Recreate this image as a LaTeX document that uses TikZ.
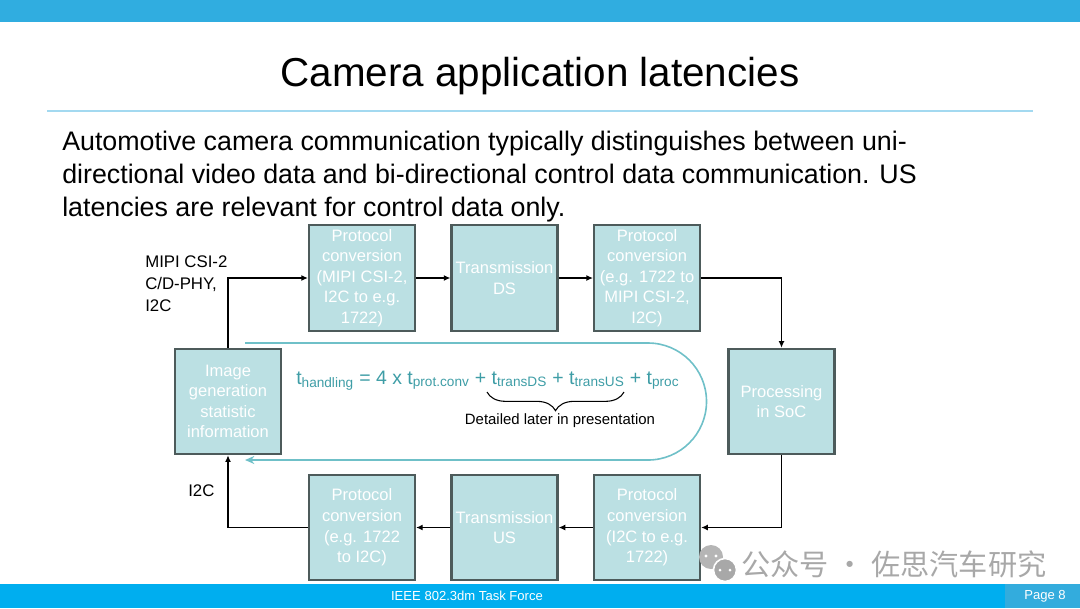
\documentclass[tikz,border=0pt]{standalone}
\usepackage{fontspec}
\setmainfont{Liberation Sans}
\newfontfamily\cjkfont{Noto Sans CJK SC}
\usetikzlibrary{arrows.meta, positioning, calc, decorations.pathreplacing}
\definecolor{barblue}{HTML}{30ADE0}
\definecolor{footblue}{HTML}{00AEEF}
\definecolor{pageblue}{HTML}{33ACDD}
\definecolor{ruleblue}{HTML}{A3D9F0}
\definecolor{boxfill}{HTML}{BBE0E3}
\definecolor{boxedge}{HTML}{4D5B5B}
\definecolor{loopteal}{HTML}{6FC0C8}
\definecolor{formteal}{HTML}{3E9DA6}
\definecolor{markgray}{HTML}{A8A8A8}
\tikzset{
    stage/.style={rectangle, draw=boxedge, line width=1.6pt, fill=boxfill, minimum width=79.5pt, minimum height=79pt, inner sep=0pt, align=center, text=white, font=\fontsize{12.4}{15.4}\selectfont},
    flow/.style={-{Latex[length=5pt,width=4.5pt]}, line width=1.1pt, draw=black},
    sidelabel/.style={align=left, inner sep=0pt, font=\fontsize{12.6}{16.5}\selectfont},
    footnote/.style={text=white, inner sep=0pt, font=\fontsize{9.8}{12}\selectfont}
}

\begin{document}
\begin{tikzpicture}[x=0.75pt, y=-0.75pt, node distance=25.8pt]
    % slide frame
    \useasboundingbox (0,0) rectangle (1080,608);
    \fill[barblue] (0,0) rectangle (1080,22);
    \fill[footblue] (0,584) rectangle (1080,608);
    \fill[pageblue] (1005,584) rectangle (1080,608);
    \draw[ruleblue, line width=1.5pt] (47,111) -- (1033,111);
    \node[font=\fontsize{30.3}{33}\selectfont] (title) at (540,76) {Camera application latencies};
    \node[anchor=north west, align=left, inner sep=0pt, font=\fontsize{20.1}{24.75}\selectfont] (intro) at (62,130.5)
        {Automotive camera communication typically distinguishes between uni-\\
         directional video data and bi-directional control data communication. US\\
         latencies are relevant for control data only.};

    % downstream row
    \node[stage] (convin) at (362,278) {Protocol\\conversion\\(MIPI CSI-2,\\I2C to e.g.\\1722)};
    \node[stage, right=of convin] (transds) {Transmission\\DS};
    \node[stage, right=of transds] (convout) {Protocol\\conversion\\(e.g. 1722 to\\MIPI CSI-2,\\I2C)};
    \node[stage] (soc) at (781.5,401.5) {Processing\\in SoC};
    \node[stage] (imggen) at (228,401.5) {Image\\generation\\statistic\\information};

    % upstream row
    \node[stage] (convback) at (362,527.5) {Protocol\\conversion\\(e.g. 1722\\to I2C)};
    \node[stage, right=of convback] (transus) {Transmission\\US};
    \node[stage, right=of transus] (convctl) {Protocol\\conversion\\(I2C to e.g.\\1722)};

    \node[sidelabel, anchor=west] (mipilbl) at (145,284) {MIPI CSI-2\\C/D-PHY,\\I2C};
    \node[sidelabel, anchor=west] (i2clbl) at (188,491) {I2C};

    \draw[flow] (imggen.north) |- (convin.west);
    \draw[flow] (convin) -- (transds);
    \draw[flow] (transds) -- (convout);
    \draw[flow] (convout.east) -| (soc.north);
    \draw[flow] (soc.south) |- (convctl.east);
    \draw[flow] (convctl) -- (transus);
    \draw[flow] (transus) -- (convback);
    \draw[flow] (convback.west) -| (imggen.south);

    % latency loop
    \draw[loopteal, line width=1.2pt, -{Stealth[length=7pt, width=6pt]}]
        (245,343) -- (648,343) arc[start angle=-90, end angle=90, radius=58.5] -- (245,460);
    \node[anchor=base west, inner sep=0pt, text=formteal, font=\fontsize{14.6}{18}\selectfont] (formula) at (296,384)
        {t\textsubscript{handling} = 4 x t\textsubscript{prot.conv} + t\textsubscript{transDS} + t\textsubscript{transUS} + t\textsubscript{proc}};
    \draw[decorate, decoration={brace, mirror, amplitude=14pt}, line width=0.8pt] (487,392) -- (624,392);
    \node[font=\fontsize{11.2}{13}\selectfont] (later) at (560,421) {Detailed later in presentation};

    % footer
    \node[footnote] (event) at (467,596) {IEEE 802.3dm Task Force};
    \node[footnote] (page) at (1045,596) {Page 8};

    % watermark
    \fill[markgray!85] (711,557) circle (12);
    \fill[white] (706,556) circle (1.6) (716,556) circle (1.6);
    \fill[markgray, draw=white, line width=1.2pt] (725,570) circle (11.5);
    \fill[white] (720,570) circle (1.5) (730,570) circle (1.5);
    \node[text=markgray, font=\cjkfont\fontsize{21.9}{24}\selectfont] (mark) at (894,564) {公众号 · 佐思汽车研究};
\end{tikzpicture}
\end{document}
